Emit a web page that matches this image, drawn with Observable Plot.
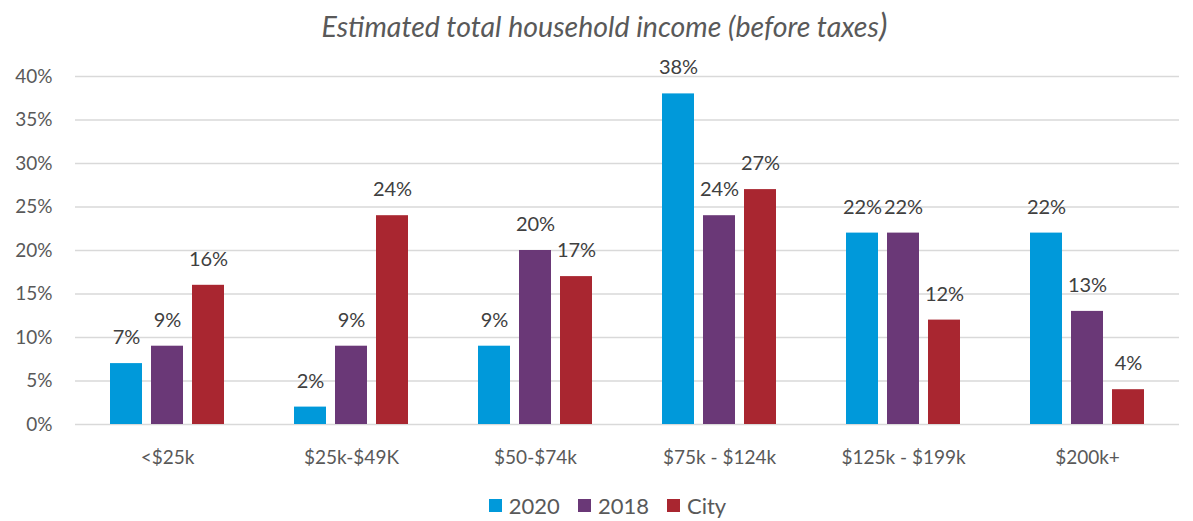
<!DOCTYPE html>
<html><head><meta charset="utf-8">
<script src="https://cdn.jsdelivr.net/npm/d3@7"></script>
<script src="https://cdn.jsdelivr.net/npm/@observablehq/plot@0.6"></script>
<style>
body{margin:0;background:#fff;font-family:Lato,"Open Sans",sans-serif;width:1193px;height:521px;overflow:hidden;}
#title{height:50px;text-align:center;font-style:italic;font-size:28.5px;color:#595959;line-height:48px;padding-left:16px;white-space:nowrap;}
#title .p{font-size:33px;}
#legend{display:flex;justify-content:center;gap:18px;font-size:22px;color:#595959;margin-top:12px;padding-left:22px;}
#legend .it{display:flex;align-items:center;gap:7px;}
#legend .sw{width:13px;height:13px;display:inline-block;}
</style></head>
<body>
<div id="title">Estimated total household income (before taxes<span class="p">)</span></div>
<div id="chart"></div>
<div id="legend"></div>
<script>
const categories = ["<$25k", "$25k-$49K", "$50-$74k", "$75k - $124k", "$125k - $199k", "$200k+"];
const series = ["2020", "2018", "City"];
const colors = ["#0099DA", "#6A3877", "#A92630"];
const values2020 = [7, 2, 9, 38, 22, 22];
const values2018 = [9, 9, 20, 24, 22, 13];
const valuesCity = [16, 24, 17, 27, 12, 4];
const yTicks = [0, 5, 10, 15, 20, 25, 30, 35, 40];

const allValues = [values2020, values2018, valuesCity];
const data = [];
categories.forEach((c, i) => series.forEach((s, j) => data.push({category: c, series: s, value: allValues[j][i]})));

const chart = Plot.plot({
  width: 1193,
  height: 430,
  marginLeft: 73,
  marginRight: 13,
  marginTop: 26,
  marginBottom: 56,
  style: {fontFamily: "Lato, 'Open Sans', sans-serif", background: "#fff"},
  fx: {domain: categories, padding: 0, label: null},
  x: {domain: series, axis: null, paddingInner: 0.21, paddingOuter: 0.8},
  y: {domain: [0, 40], label: null},
  color: {domain: series, range: colors},
  marks: [
    Plot.gridY(yTicks, {stroke: "#d9d9d9", strokeOpacity: 1, strokeWidth: 1.3}),
    Plot.barY(data, {fx: "category", x: "series", y: "value", fill: "series"}),
    Plot.text(data, {fx: "category", x: "series", y: "value", text: d => d.value + "%", dy: -26, fontSize: 20, fill: "#404040"}),
    Plot.axisY(yTicks, {tickFormat: d => d + "%", tickSize: 0, tickPadding: 23, fontSize: 19, label: null}),
    Plot.axisFx({anchor: "bottom", tickSize: 0, tickPadding: 26, fontSize: 19, label: null})
  ]
});
document.getElementById("chart").appendChild(chart);
chart.querySelectorAll("g[aria-label='y-axis tick label'], g[aria-label='fx-axis tick label']").forEach(g => { g.setAttribute("fill", "#595959"); g.querySelectorAll("text").forEach(t => t.setAttribute("fill", "#595959")); });

const legend = document.getElementById("legend");
series.forEach((s, j) => {
  const it = document.createElement("div");
  it.className = "it";
  it.innerHTML = `<span class="sw" style="background:${colors[j]}"></span><span>${s}</span>`;
  legend.appendChild(it);
});
</script>
</body></html>
